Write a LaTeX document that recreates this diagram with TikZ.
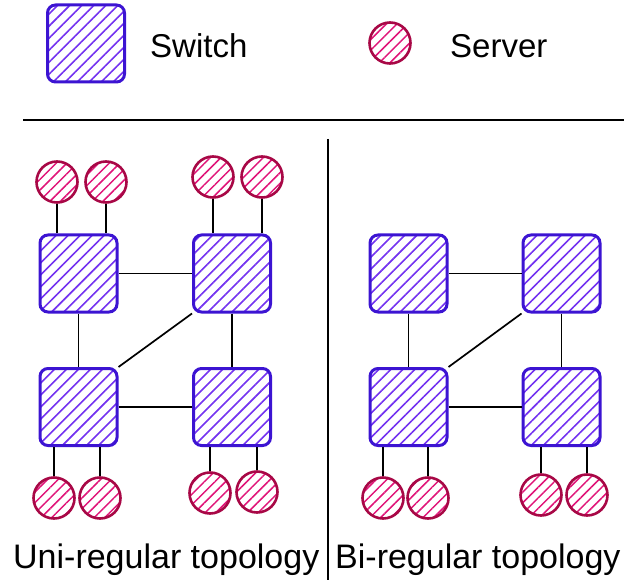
\documentclass[tikz,border=0pt]{standalone}
\usepackage{fontspec}
\setmainfont{Liberation Sans}
\usetikzlibrary{patterns.meta}
\definecolor{swborder}{RGB}{60,20,210}
\definecolor{swhatch}{RGB}{115,50,240}
\definecolor{svborder}{RGB}{168,8,70}
\definecolor{svhatch}{RGB}{224,20,120}
\tikzset{
  switchbox/.style={draw=swborder, line width=3pt, rounded corners=8pt,
    minimum size=77pt, inner sep=0pt,
    pattern={Lines[angle=45,distance=8.5pt,line width=1.6pt]}, pattern color=swhatch},
  serverbox/.style={circle, draw=svborder, line width=2.6pt, minimum size=41pt, inner sep=0pt,
    pattern={Lines[angle=45,distance=7.5pt,line width=1.5pt]}, pattern color=svhatch},
  link/.style={black, line width=1.7pt},
  rule/.style={black, line width=1.9pt},
  legendtxt/.style={anchor=base west, inner sep=0pt, font=\fontsize{33}{38}\selectfont},
  labeltxt/.style={anchor=base west, inner sep=0pt, font=\fontsize{34}{40}\selectfont}
}
\begin{document}
\begin{tikzpicture}[x=1pt,y=-1pt]
\useasboundingbox (0,0) rectangle (624,580);
% legend
\node[switchbox] (lsw) at (86,43.5) {};
\node[legendtxt] (lswt) at (150,58) {Switch};
\node[serverbox] (lsv) at (390,43) {};
\node[legendtxt] (lsvt) at (450,58) {Server};
% rules
\coordinate (h1) at (23,120);
\coordinate (h2) at (624,120);
\draw[rule] (h1) -- (h2);
\coordinate (v1) at (328,139);
\coordinate (v2) at (328,580);
\draw[rule] (v1) -- (v2);
% left panel switches
\node[switchbox] (a1) at (78.5,273.5) {};
\node[switchbox] (a2) at (232,273.5) {};
\node[switchbox] (a3) at (78.5,407) {};
\node[switchbox] (a4) at (232,407) {};
\draw[link] (a1.east) -- (a2.west);
\draw[link] (a3.east) -- (a4.west);
\draw[link] (a1.south) -- (a3.north);
\draw[link] (a2.south) -- (a4.north);
\draw[link] (a2.south west) -- (a3.north east);
% left panel servers
\node[serverbox] (p1) at (57,182) {};
\node[serverbox] (p2) at (106,182) {};
\node[serverbox] (p3) at (213,177) {};
\node[serverbox] (p4) at (262,177) {};
\node[serverbox] (p5) at (54,498) {};
\node[serverbox] (p6) at (100,498) {};
\node[serverbox] (p7) at (210,493) {};
\node[serverbox] (p8) at (257,492) {};
\draw[link] (p1.south) -- (p1.south |- a1.north);
\draw[link] (p2.south) -- (p2.south |- a1.north);
\draw[link] (p3.south) -- (p3.south |- a2.north);
\draw[link] (p4.south) -- (p4.south |- a2.north);
\draw[link] (p5.north) -- (p5.north |- a3.south);
\draw[link] (p6.north) -- (p6.north |- a3.south);
\draw[link] (p7.north) -- (p7.north |- a4.south);
\draw[link] (p8.north) -- (p8.north |- a4.south);
% right panel switches
\node[switchbox] (b1) at (408.5,273.5) {};
\node[switchbox] (b2) at (561.5,273.5) {};
\node[switchbox] (b3) at (408.5,407) {};
\node[switchbox] (b4) at (561.5,407) {};
\draw[link] (b1.east) -- (b2.west);
\draw[link] (b3.east) -- (b4.west);
\draw[link] (b1.south) -- (b3.north);
\draw[link] (b2.south) -- (b4.north);
\draw[link] (b2.south west) -- (b3.north east);
% right panel servers
\node[serverbox] (q1) at (383,498) {};
\node[serverbox] (q2) at (428,498) {};
\node[serverbox] (q3) at (541,495) {};
\node[serverbox] (q4) at (587,495) {};
\draw[link] (q1.north) -- (q1.north |- b3.south);
\draw[link] (q2.north) -- (q2.north |- b3.south);
\draw[link] (q3.north) -- (q3.north |- b4.south);
\draw[link] (q4.north) -- (q4.north |- b4.south);
% labels
\node[labeltxt] (la) at (13,568) {Uni-regular topology};
\node[labeltxt] (lb) at (335,568) {Bi-regular topology};
\end{tikzpicture}
\end{document}
